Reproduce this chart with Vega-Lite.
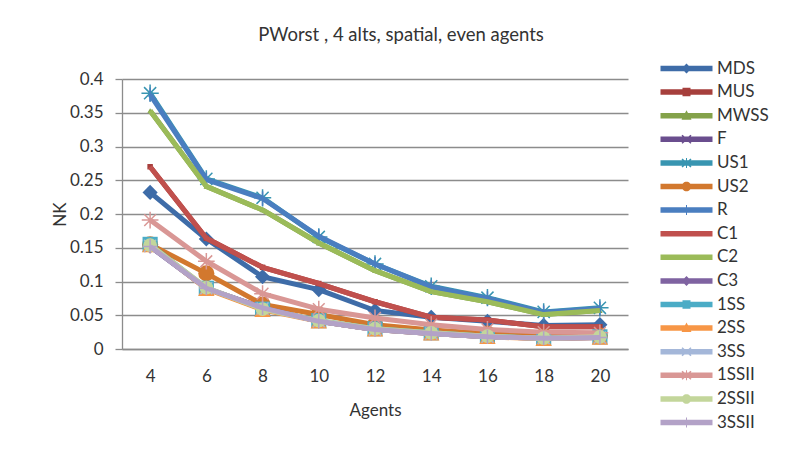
{
  "$schema": "https://vega.github.io/schema/vega-lite/v6.json",
  "width": 506,
  "height": 270,
  "autosize": {"type": "none"},
  "padding": {"left": 122, "top": 79, "right": 162, "bottom": 100},
  "background": "white",
  "title": {"text": "PWorst , 4 alts, spatial, even agents", "anchor": "middle", "frame": "group", "dx": 26, "offset": 1, "baseline": "alphabetic", "font": "Lato", "fontSize": 18.5, "fontWeight": "normal", "color": "#333333"},
  "config": {
    "font": "Lato",
    "view": {"stroke": null},
    "axis": {"labelFont": "Lato", "labelFontSize": 17, "labelColor": "#333333", "titleFont": "Lato", "titleFontSize": 17, "titleFontWeight": "normal", "titleColor": "#333333", "domainColor": "#8c8c8c", "tickColor": "#8c8c8c", "gridColor": "#8c8c8c", "domainWidth": 1.3, "gridWidth": 1.3, "tickWidth": 1.3}
  },
  "data": {"values": [
    {"s":"MDS","x":4,"v":0.232},{"s":"MDS","x":6,"v":0.163},{"s":"MDS","x":8,"v":0.107},{"s":"MDS","x":10,"v":0.088},{"s":"MDS","x":12,"v":0.057},{"s":"MDS","x":14,"v":0.047},{"s":"MDS","x":16,"v":0.041},{"s":"MDS","x":18,"v":0.035},{"s":"MDS","x":20,"v":0.036},
    {"s":"MUS","x":4,"v":0.270},{"s":"MUS","x":6,"v":0.164},{"s":"MUS","x":8,"v":0.121},{"s":"MUS","x":10,"v":0.097},{"s":"MUS","x":12,"v":0.070},{"s":"MUS","x":14,"v":0.047},{"s":"MUS","x":16,"v":0.043},{"s":"MUS","x":18,"v":0.033},{"s":"MUS","x":20,"v":0.033},
    {"s":"MWSS","x":4,"v":0.353},{"s":"MWSS","x":6,"v":0.241},{"s":"MWSS","x":8,"v":0.206},{"s":"MWSS","x":10,"v":0.157},{"s":"MWSS","x":12,"v":0.116},{"s":"MWSS","x":14,"v":0.085},{"s":"MWSS","x":16,"v":0.070},{"s":"MWSS","x":18,"v":0.051},{"s":"MWSS","x":20,"v":0.057},
    {"s":"F","x":4,"v":0.152},{"s":"F","x":6,"v":0.090},{"s":"F","x":8,"v":0.061},{"s":"F","x":10,"v":0.041},{"s":"F","x":12,"v":0.029},{"s":"F","x":14,"v":0.023},{"s":"F","x":16,"v":0.018},{"s":"F","x":18,"v":0.016},{"s":"F","x":20,"v":0.017},
    {"s":"US1","x":4,"v":0.379},{"s":"US1","x":6,"v":0.252},{"s":"US1","x":8,"v":0.224},{"s":"US1","x":10,"v":0.166},{"s":"US1","x":12,"v":0.126},{"s":"US1","x":14,"v":0.093},{"s":"US1","x":16,"v":0.076},{"s":"US1","x":18,"v":0.055},{"s":"US1","x":20,"v":0.061},
    {"s":"US2","x":4,"v":0.155},{"s":"US2","x":6,"v":0.112},{"s":"US2","x":8,"v":0.066},{"s":"US2","x":10,"v":0.051},{"s":"US2","x":12,"v":0.036},{"s":"US2","x":14,"v":0.028},{"s":"US2","x":16,"v":0.023},{"s":"US2","x":18,"v":0.020},{"s":"US2","x":20,"v":0.020},
    {"s":"R","x":4,"v":0.377},{"s":"R","x":6,"v":0.251},{"s":"R","x":8,"v":0.223},{"s":"R","x":10,"v":0.167},{"s":"R","x":12,"v":0.126},{"s":"R","x":14,"v":0.092},{"s":"R","x":16,"v":0.075},{"s":"R","x":18,"v":0.054},{"s":"R","x":20,"v":0.060},
    {"s":"C1","x":4,"v":0.270},{"s":"C1","x":6,"v":0.164},{"s":"C1","x":8,"v":0.121},{"s":"C1","x":10,"v":0.097},{"s":"C1","x":12,"v":0.070},{"s":"C1","x":14,"v":0.047},{"s":"C1","x":16,"v":0.043},{"s":"C1","x":18,"v":0.033},{"s":"C1","x":20,"v":0.033},
    {"s":"C2","x":4,"v":0.353},{"s":"C2","x":6,"v":0.241},{"s":"C2","x":8,"v":0.206},{"s":"C2","x":10,"v":0.157},{"s":"C2","x":12,"v":0.116},{"s":"C2","x":14,"v":0.085},{"s":"C2","x":16,"v":0.070},{"s":"C2","x":18,"v":0.051},{"s":"C2","x":20,"v":0.057},
    {"s":"C3","x":4,"v":0.152},{"s":"C3","x":6,"v":0.090},{"s":"C3","x":8,"v":0.061},{"s":"C3","x":10,"v":0.041},{"s":"C3","x":12,"v":0.029},{"s":"C3","x":14,"v":0.023},{"s":"C3","x":16,"v":0.018},{"s":"C3","x":18,"v":0.016},{"s":"C3","x":20,"v":0.017},
    {"s":"1SS","x":4,"v":0.155},{"s":"1SS","x":6,"v":0.090},{"s":"1SS","x":8,"v":0.059},{"s":"1SS","x":10,"v":0.042},{"s":"1SS","x":12,"v":0.030},{"s":"1SS","x":14,"v":0.024},{"s":"1SS","x":16,"v":0.019},{"s":"1SS","x":18,"v":0.016},{"s":"1SS","x":20,"v":0.018},
    {"s":"2SS","x":4,"v":0.154},{"s":"2SS","x":6,"v":0.089},{"s":"2SS","x":8,"v":0.058},{"s":"2SS","x":10,"v":0.041},{"s":"2SS","x":12,"v":0.029},{"s":"2SS","x":14,"v":0.023},{"s":"2SS","x":16,"v":0.018},{"s":"2SS","x":18,"v":0.015},{"s":"2SS","x":20,"v":0.017},
    {"s":"3SS","x":4,"v":0.153},{"s":"3SS","x":6,"v":0.090},{"s":"3SS","x":8,"v":0.060},{"s":"3SS","x":10,"v":0.041},{"s":"3SS","x":12,"v":0.029},{"s":"3SS","x":14,"v":0.023},{"s":"3SS","x":16,"v":0.018},{"s":"3SS","x":18,"v":0.016},{"s":"3SS","x":20,"v":0.017},
    {"s":"1SSII","x":4,"v":0.191},{"s":"1SSII","x":6,"v":0.130},{"s":"1SSII","x":8,"v":0.082},{"s":"1SSII","x":10,"v":0.059},{"s":"1SSII","x":12,"v":0.046},{"s":"1SSII","x":14,"v":0.036},{"s":"1SSII","x":16,"v":0.029},{"s":"1SSII","x":18,"v":0.025},{"s":"1SSII","x":20,"v":0.024},
    {"s":"2SSII","x":4,"v":0.154},{"s":"2SSII","x":6,"v":0.091},{"s":"2SSII","x":8,"v":0.059},{"s":"2SSII","x":10,"v":0.042},{"s":"2SSII","x":12,"v":0.030},{"s":"2SSII","x":14,"v":0.024},{"s":"2SSII","x":16,"v":0.019},{"s":"2SSII","x":18,"v":0.016},{"s":"2SSII","x":20,"v":0.018},
    {"s":"3SSII","x":4,"v":0.152},{"s":"3SSII","x":6,"v":0.090},{"s":"3SSII","x":8,"v":0.061},{"s":"3SSII","x":10,"v":0.041},{"s":"3SSII","x":12,"v":0.029},{"s":"3SSII","x":14,"v":0.023},{"s":"3SSII","x":16,"v":0.018},{"s":"3SSII","x":18,"v":0.016},{"s":"3SSII","x":20,"v":0.017}
  ]},
  "encoding": {
    "x": {"field": "x", "type": "ordinal", "scale": {"type": "point", "padding": 0.5, "domain": [4,6,8,10,12,14,16,18,20]}, "axis": {"title": "Agents", "labelAngle": 0, "ticks": false, "domain": true, "grid": false, "labelPadding": 19, "titleY": 61, "titleBaseline": "middle"}},
    "y": {"field": "v", "type": "quantitative", "scale": {"domain": [0, 0.4], "nice": false}, "axis": {"title": "NK", "values": [0,0.05,0.1,0.15,0.2,0.25,0.3,0.35,0.4], "format": "~r", "grid": true, "domain": true, "ticks": true, "tickSize": 7, "labelPadding": 12, "titleX": -62, "titleY": 135, "titleAlign": "center", "titleBaseline": "middle"}}
  },
  "layer": [
    {"transform": [{"filter": "datum.s==='MDS'"}], "mark": {"type": "line", "color": "#3E6CA8", "strokeWidth": 5, "strokeJoin": "round", "point": {"shape": "diamond", "filled": true, "size": 230, "opacity": 1, "color": "#3E6CA8"}}},
    {"transform": [{"filter": "datum.s==='MUS'"}], "mark": {"type": "line", "color": "#A63F3C", "strokeWidth": 5, "strokeJoin": "round", "point": {"shape": "square", "filled": true, "size": 30, "opacity": 1, "color": "#A63F3C"}}},
    {"transform": [{"filter": "datum.s==='MWSS'"}], "mark": {"type": "line", "color": "#84A24A", "strokeWidth": 5, "strokeJoin": "round", "point": {"shape": "triangle-up", "filled": true, "size": 30, "opacity": 1, "color": "#84A24A"}}},
    {"transform": [{"filter": "datum.s==='F'"}], "mark": {"type": "line", "color": "#6A4E8E", "strokeWidth": 5, "strokeJoin": "round", "point": {"shape": "M-0.8,-0.8L0.8,0.8M-0.8,0.8L0.8,-0.8", "filled": false, "size": 200, "strokeWidth": 1.5, "opacity": 1, "color": "#6A4E8E"}}},
    {"transform": [{"filter": "datum.s==='US1'"}], "mark": {"type": "line", "color": "#3895B1", "strokeWidth": 5, "strokeJoin": "round", "point": {"shape": "M-1,0H1M0,-1V1M-0.7,-0.7L0.7,0.7M-0.7,0.7L0.7,-0.7", "filled": false, "size": 300, "strokeWidth": 1.5, "opacity": 1, "color": "#3895B1"}}},
    {"transform": [{"filter": "datum.s==='US2'"}], "mark": {"type": "line", "color": "#D2782E", "strokeWidth": 5, "strokeJoin": "round", "point": {"shape": "circle", "filled": true, "size": 260, "opacity": 1, "color": "#D2782E"}}},
    {"transform": [{"filter": "datum.s==='R'"}], "mark": {"type": "line", "color": "#4A7EC0", "strokeWidth": 5, "strokeJoin": "round", "point": {"shape": "M0,-1V1", "filled": false, "size": 200, "strokeWidth": 1.5, "opacity": 1, "color": "#4A7EC0"}}},
    {"transform": [{"filter": "datum.s==='C1'"}], "mark": {"type": "line", "color": "#C0504D", "strokeWidth": 5, "strokeJoin": "round"}},
    {"transform": [{"filter": "datum.s==='C2'"}], "mark": {"type": "line", "color": "#9BBB59", "strokeWidth": 5, "strokeJoin": "round"}},
    {"transform": [{"filter": "datum.s==='C3'"}], "mark": {"type": "line", "color": "#7F63A1", "strokeWidth": 5, "strokeJoin": "round", "point": {"shape": "diamond", "filled": true, "size": 200, "opacity": 1, "color": "#7F63A1"}}},
    {"transform": [{"filter": "datum.s==='1SS'"}], "mark": {"type": "line", "color": "#4BACC6", "strokeWidth": 5, "strokeJoin": "round", "point": {"shape": "square", "filled": true, "size": 230, "opacity": 1, "color": "#4BACC6"}}},
    {"transform": [{"filter": "datum.s==='2SS'"}], "mark": {"type": "line", "color": "#F79646", "strokeWidth": 5, "strokeJoin": "round", "point": {"shape": "triangle-up", "filled": true, "size": 270, "opacity": 1, "color": "#F79646"}}},
    {"transform": [{"filter": "datum.s==='3SS'"}], "mark": {"type": "line", "color": "#A4B7D9", "strokeWidth": 5, "strokeJoin": "round", "point": {"shape": "M-0.8,-0.8L0.8,0.8M-0.8,0.8L0.8,-0.8", "filled": false, "size": 220, "strokeWidth": 1.5, "opacity": 1, "color": "#A4B7D9"}}},
    {"transform": [{"filter": "datum.s==='1SSII'"}], "mark": {"type": "line", "color": "#D99795", "strokeWidth": 5, "strokeJoin": "round", "point": {"shape": "M-1,0H1M0,-1V1M-0.7,-0.7L0.7,0.7M-0.7,0.7L0.7,-0.7", "filled": false, "size": 280, "strokeWidth": 1.5, "opacity": 1, "color": "#D99795"}}},
    {"transform": [{"filter": "datum.s==='2SSII'"}], "mark": {"type": "line", "color": "#C3D69B", "strokeWidth": 5, "strokeJoin": "round", "point": {"shape": "circle", "filled": true, "size": 190, "opacity": 1, "color": "#C3D69B"}}},
    {"transform": [{"filter": "datum.s==='3SSII'"}], "mark": {"type": "line", "color": "#B3A2C7", "strokeWidth": 5, "strokeJoin": "round", "point": {"shape": "M0,-1V1M-1,0H1", "filled": false, "size": 200, "strokeWidth": 1.5, "opacity": 1, "color": "#B3A2C7"}}},
    {
      "transform": [{"filter": "false"}],
      "mark": {"type": "point", "filled": true, "opacity": 1, "strokeWidth": 0},
      "encoding": {
        "color": {"field": "s", "type": "nominal", "scale": {"domain": ["MDS","MUS","MWSS","F","US1","US2","R","C1","C2","C3","1SS","2SS","3SS","1SSII","2SSII","3SSII"], "range": ["#3E6CA8","#A63F3C","#84A24A","#6A4E8E","#3895B1","#D2782E","#4A7EC0","#C0504D","#9BBB59","#7F63A1","#4BACC6","#F79646","#A4B7D9","#D99795","#C3D69B","#B3A2C7"]}, "legend": {"orient": "none", "legendX": 530, "legendY": -19, "title": null, "symbolSize": 100, "symbolOpacity": 1, "symbolStrokeWidth": 0, "labelFont": "Lato", "labelFontSize": 17, "labelColor": "#333333", "labelOffset": 48, "rowPadding": 5.6, "padding": 0, "symbolLimit": 0}},
        "shape": {"field": "s", "type": "nominal", "scale": {"domain": ["MDS","MUS","MWSS","F","US1","US2","R","C1","C2","C3","1SS","2SS","3SS","1SSII","2SSII","3SSII"], "range": [
          "M0,-0.55H10.4V0.55H0Z M5.2,-1L6.2,0L5.2,1L4.2,0Z",
          "M0,-0.55H10.4V0.55H0Z M4.4,-0.85H6V0.85H4.4Z",
          "M0,-0.55H10.4V0.55H0Z M5.2,-1.1L6.2,0.8H4.2Z",
          "M0,-0.55H10.4V0.55H0Z M4.4,-0.9L5.2,-0.2L6,-0.9L6.2,-0.7L5.4,0L6.2,0.7L6,0.9L5.2,0.2L4.4,0.9L4.2,0.7L5,0L4.2,-0.7Z",
          "M0,-0.55H10.4V0.55H0Z M4.4,-0.9L5.2,-0.2L6,-0.9L6.2,-0.7L5.4,0L6.2,0.7L6,0.9L5.2,0.2L4.4,0.9L4.2,0.7L5,0L4.2,-0.7Z M5.1,-1H5.3V1H5.1Z",
          "M0,-0.55H10.4V0.55H0Z M4.25,0A0.95,0.95 0 1,1 6.15,0A0.95,0.95 0 1,1 4.25,0Z",
          "M0,-0.55H10.4V0.55H0Z M5.1,-1H5.3V1H5.1Z",
          "M0,-0.55H10.4V0.55H0Z",
          "M0,-0.55H10.4V0.55H0Z",
          "M0,-0.55H10.4V0.55H0Z M5.2,-1L6.2,0L5.2,1L4.2,0Z",
          "M0,-0.55H10.4V0.55H0Z M4.4,-0.85H6V0.85H4.4Z",
          "M0,-0.55H10.4V0.55H0Z M5.2,-1.1L6.2,0.8H4.2Z",
          "M0,-0.55H10.4V0.55H0Z M4.4,-0.9L5.2,-0.2L6,-0.9L6.2,-0.7L5.4,0L6.2,0.7L6,0.9L5.2,0.2L4.4,0.9L4.2,0.7L5,0L4.2,-0.7Z",
          "M0,-0.55H10.4V0.55H0Z M4.4,-0.9L5.2,-0.2L6,-0.9L6.2,-0.7L5.4,0L6.2,0.7L6,0.9L5.2,0.2L4.4,0.9L4.2,0.7L5,0L4.2,-0.7Z M5.1,-1H5.3V1H5.1Z",
          "M0,-0.55H10.4V0.55H0Z M4.25,0A0.95,0.95 0 1,1 6.15,0A0.95,0.95 0 1,1 4.25,0Z",
          "M0,-0.55H10.4V0.55H0Z M5.1,-1H5.3V1H5.1Z"
        ]}, "legend": {"orient": "none", "legendX": 530, "legendY": -19, "title": null, "symbolSize": 100, "symbolOpacity": 1, "symbolStrokeWidth": 0, "labelFont": "Lato", "labelFontSize": 17, "labelColor": "#333333", "labelOffset": 48, "rowPadding": 5.6, "padding": 0, "symbolLimit": 0}}
      }
    }
  ]
}
